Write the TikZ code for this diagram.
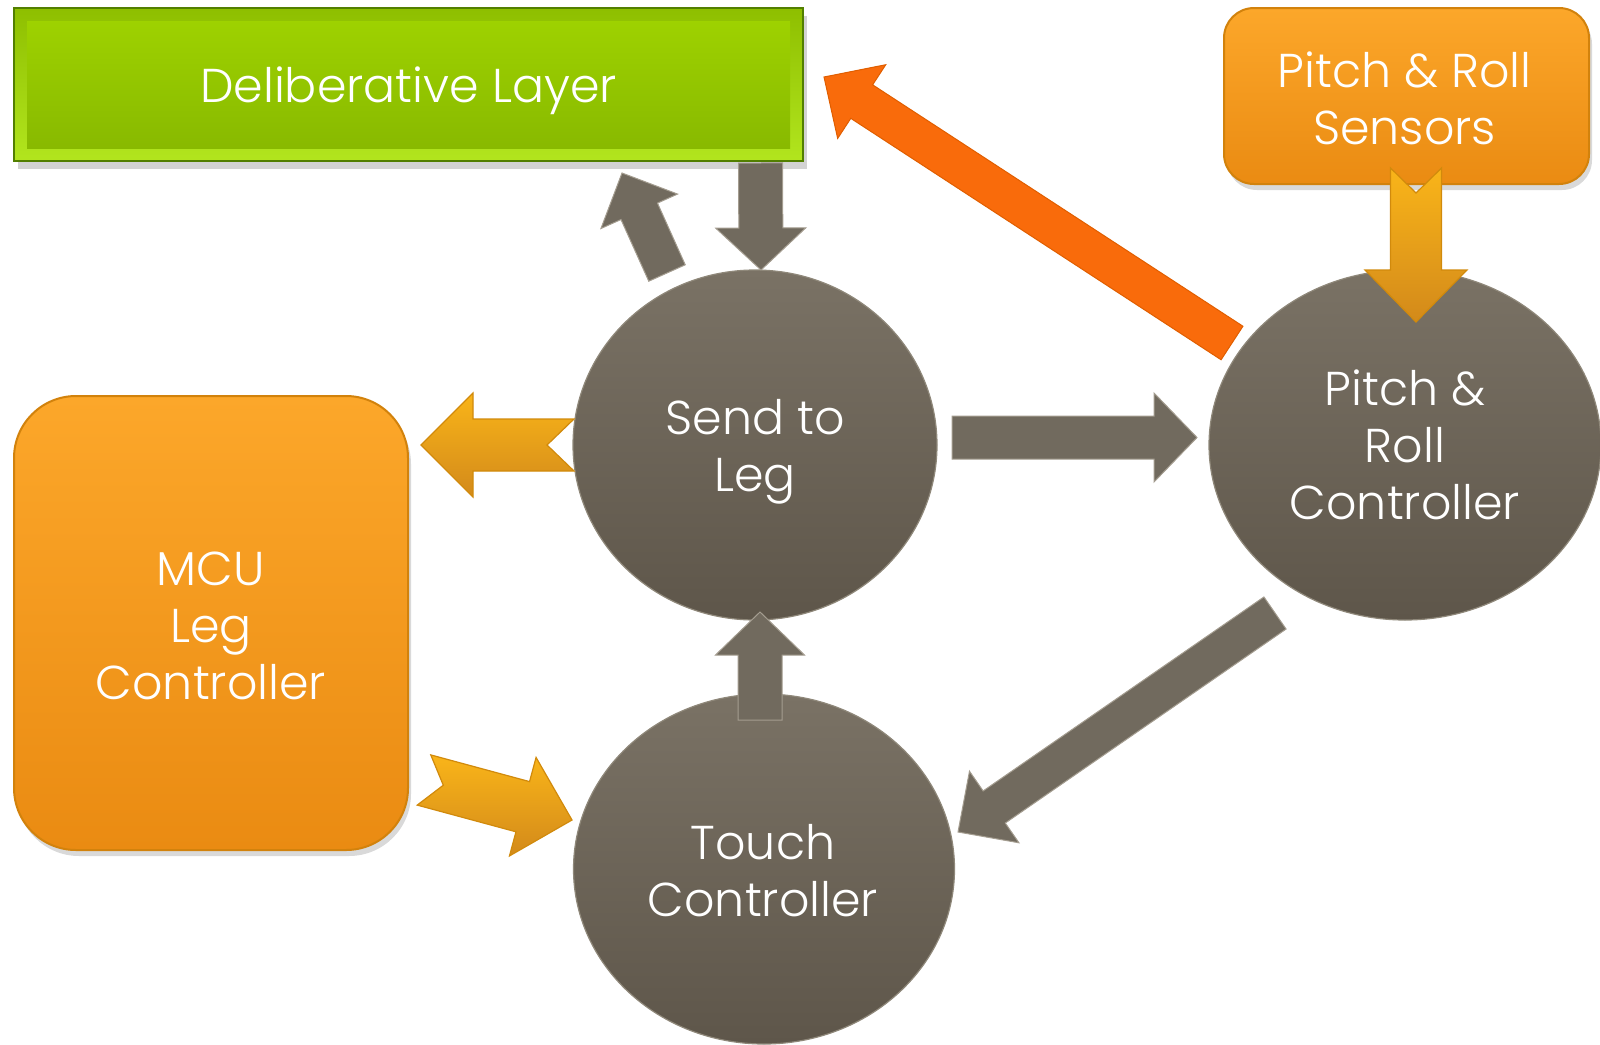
\documentclass[tikz,border=0pt]{standalone}
\usepackage{fontspec}
\setmainfont{Poppins}[UprightFont={* Light}]
\usetikzlibrary{calc,shapes.geometric,shadows}
\definecolor{grTop}{HTML}{A0D400}
\definecolor{grBot}{HTML}{86B700}
\definecolor{grBevTop}{HTML}{8EBF00}
\definecolor{grBevBot}{HTML}{B2E51E}
\definecolor{grEdge}{HTML}{527F00}
\definecolor{orTop}{HTML}{FCA72A}
\definecolor{orBot}{HTML}{EA8B12}
\definecolor{orEdge}{HTML}{D2820C}
\definecolor{cTop}{HTML}{7A7265}
\definecolor{cBot}{HTML}{5E564A}
\definecolor{cEdge}{HTML}{8F887A}
\definecolor{arGray}{HTML}{716A5E}
\definecolor{arGrayEdge}{HTML}{A49D90}
\definecolor{arOrange}{HTML}{F96B0B}
\definecolor{arOrangeEdge}{HTML}{E05E00}
\definecolor{arGold}{HTML}{F8A21F}
\definecolor{arGoldEdge}{HTML}{D18A0C}
\newcommand\blockarrow[7]{%
  \coordinate (bh) at ($(#3)!#6pt!(#2)$);
  \path[#1] ($(#2)!#4pt!90:(#3)$) -- ($(bh)!#4pt!90:(#3)$) -- ($(bh)!#5pt!90:(#3)$) -- (#3)
    -- ($(bh)!#5pt!-90:(#3)$) -- ($(bh)!#4pt!-90:(#3)$) -- ($(#2)!#4pt!-90:(#3)$)
    -- ($(#2)!#7pt!(#3)$) -- cycle;}
\tikzset{
  lbl/.style={text=white, align=center, inner sep=0pt, font=\fontsize{47.5}{57}\selectfont},
  greenbox/.style={rectangle, draw=grEdge, line width=1.5pt, top color=grBevTop, bottom color=grBevBot,
    drop shadow={opacity=0.35, shadow xshift=4pt, shadow yshift=-8pt},
    path picture={\shade[top color=grTop, bottom color=grBot]
      ($(path picture bounding box.north west)+(13,13)$) rectangle
      ($(path picture bounding box.south east)+(-13,-13)$);}},
  orangebox/.style={rectangle, draw=orEdge, line width=2pt, top color=orTop, bottom color=orBot,
    drop shadow={opacity=0.3, shadow xshift=3pt, shadow yshift=-6pt}},
  disc/.style={ellipse, inner sep=0pt, draw=cEdge, line width=1.2pt, top color=cTop, bottom color=cBot},
  grayarrow/.style={fill=arGray, draw=arGrayEdge, line width=1pt, line join=miter},
  bigarrow/.style={fill=arOrange, draw=arOrangeEdge, line width=1pt},
  goldarrow/.style={top color=arGold!80!yellow, bottom color=arGold!85!black, draw=arGoldEdge, line width=1.2pt}
}
\begin{document}
\begin{tikzpicture}[x=1pt,y=-1pt]
\useasboundingbox (0,0) rectangle (1600,1044);
% boxes
\node[greenbox, minimum width=789pt, minimum height=153pt] (delib) at (408.5,84.5) {};
\node[orangebox, rounded corners=30pt, minimum width=365pt, minimum height=176pt] (sens) at (1406.5,96) {};
\node[orangebox, rounded corners=62pt, minimum width=394pt, minimum height=454pt] (mcu) at (211,623) {};
% discs
\node[disc, minimum width=364pt, minimum height=350pt] (send) at (755,445) {};
\node[disc, minimum width=392pt, minimum height=350pt] (prc) at (1405,445) {};
\node[disc, minimum width=381pt, minimum height=350pt] (touch) at (764,869) {};
% labels
\node[lbl] (delibT) at ($(delib)+(0,6)$) {Deliberative Layer};
\node[lbl] (sensT) at ($(sens)+(-2,2)$) {Pitch \& Roll\\Sensors};
\node[lbl] (mcuT) at ($(mcu)+(0,3)$) {MCU\\Leg\\Controller};
\node[lbl] (sendT) at ($(send)+(0,7)$) {Send to\\Leg};
\node[lbl] (prcT) at ($(prc)+(0,0)$) {Pitch \&\\Roll\\Controller};
\node[lbl] (touchT) at ($(touch)+(-1,2)$) {Touch\\Controller};
% arrow end points
\coordinate (a1s) at (667,273);   \coordinate (a1e) at (622,173);
\coordinate (a2s) at (760.5,163); \coordinate (a2e) at (761,270);
\coordinate (a3s) at (1232,343);  \coordinate (a3e) at (824,77);
\coordinate (a4s) at (1416,168);  \coordinate (a4e) at (1416,322);
\coordinate (a5s) at (574,445);   \coordinate (a5e) at (421,445);
\coordinate (a6s) at (424,780);   \coordinate (a6e) at (572,820);
\coordinate (a7s) at (952,437.5); \coordinate (a7e) at (1197,437.5);
\coordinate (a8s) at (760,720);   \coordinate (a8e) at (760,612);
\coordinate (a9s) at (1275,613);  \coordinate (a9e) at (958,832);
% arrows: style, tail, tip, shaft half-width, head half-width, head length, notch
\blockarrow{grayarrow}{a1s}{a1e}{20}{42}{42}{0}
\blockarrow{grayarrow}{a2s}{a2e}{22}{45}{42}{0}
\blockarrow{bigarrow}{a3s}{a3e}{20}{44}{45}{0}
\blockarrow{goldarrow}{a4s}{a4e}{25.5}{51}{52}{25}
\blockarrow{goldarrow}{a5s}{a5e}{26}{52}{52}{27}
\blockarrow{goldarrow}{a6s}{a6e}{26}{51}{51}{20}
\blockarrow{grayarrow}{a7s}{a7e}{21.5}{44.5}{43}{0}
\blockarrow{grayarrow}{a8s}{a8e}{22}{44.5}{43}{0}
\blockarrow{grayarrow}{a9s}{a9e}{19.5}{43.5}{44}{0}
\end{tikzpicture}
\end{document}
